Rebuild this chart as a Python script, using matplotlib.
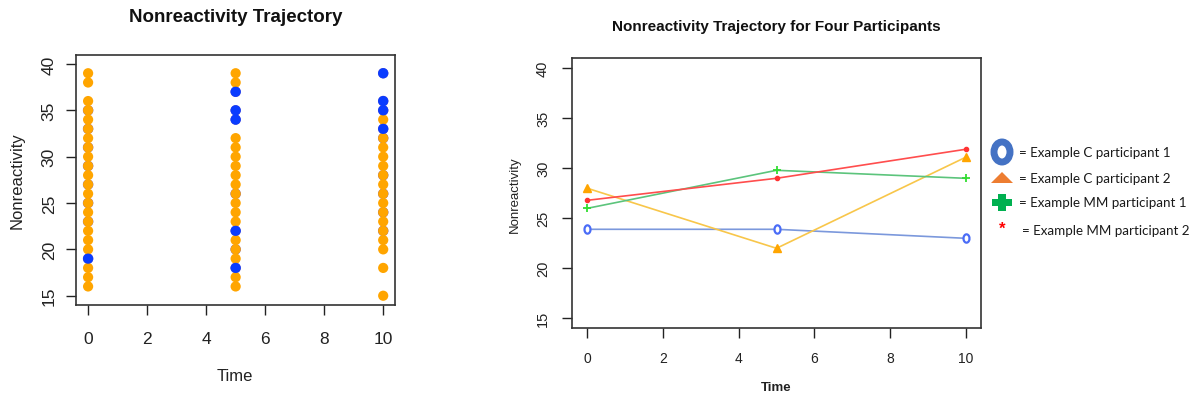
import matplotlib
matplotlib.use("Agg")
import matplotlib.pyplot as plt
from matplotlib.patches import Ellipse, Polygon
from matplotlib.path import Path
import numpy as np

plt.rcParams['font.family'] = ['Liberation Sans', 'DejaVu Sans']

# ---- Left panel data (Time, Nonreactivity) ----
orange_t0 = [39, 38, 36, 35, 34, 33, 32, 31, 30, 29, 28, 27, 26, 25, 24, 23, 22, 21, 20, 18, 17, 16]
blue_t0 = [19, 35, 33, 31, 29, 27, 25, 23]
orange_t5 = [39, 38, 32, 31, 30, 29, 28, 27, 26, 25, 24, 23, 21, 20, 19, 17, 16]
blue_t5 = [37, 35, 34, 22, 18, 26, 20]
orange_t10 = [34, 32, 31, 30, 29, 28, 27, 26, 25, 24, 23, 22, 21, 20, 18, 15]
blue_t10 = [39, 36, 35, 33, 32, 28, 26, 24, 22]

# ---- Right panel data ----
times = [0, 5, 10]
c_p1 = [23.9, 23.9, 23.0]
c_p2 = [28.0, 22.0, 31.1]
mm_p1 = [26.0, 29.8, 29.0]
mm_p2 = [26.8, 29.0, 31.9]
legend_labels = ["= Example C participant 1", "= Example C participant 2",
                 "= Example MM participant 1", "= Example MM participant 2"]

W, H = 1203, 402
fig = plt.figure(figsize=(W / 100, H / 100), dpi=100)

def ax_rect(x0, y0, x1, y1):
    return [x0 / W, 1 - y1 / H, (x1 - x0) / W, (y1 - y0) / H]

# ---------------- Left ----------------
ax1 = fig.add_axes(ax_rect(76.3, 55.7, 395, 306))
blue = "#0a3cff"
orange = "#ffa500"
ms = 54
for t, vals in [(0, blue_t0), (5, blue_t5), (10, blue_t10)]:
    ax1.scatter([t] * len(vals), vals, s=ms + 3, color='#7a62c0', edgecolors='none', zorder=2)
for t, vals in [(0, blue_t0[:1]), (5, blue_t5[:5]), (10, blue_t10[:4])]:
    ax1.scatter([t] * len(vals), vals, s=ms, color=blue, edgecolors='none', zorder=4)
for t, vals in [(0, orange_t0), (5, orange_t5), (10, orange_t10)]:
    ax1.scatter([t] * len(vals), vals, s=ms, color=orange, edgecolors='none', zorder=3)
ax1.set_xlim(-0.4, 10.4)
ax1.set_ylim(14, 41)
ax1.set_xticks([0, 2, 4, 6, 8, 10])
ax1.set_yticks([15, 20, 25, 30, 35, 40])
ax1.tick_params(axis='x', length=7, width=1, pad=12, labelsize=12.5, colors='#222222')
ax1.tick_params(axis='y', length=7, width=1, pad=7, labelsize=12.5, labelrotation=90, colors='#222222')
for lab in ax1.get_yticklabels():
    lab.set_va('center')
for sp in ax1.spines.values():
    sp.set_color('#333333'); sp.set_linewidth(1.2)
fig.text(235 / W, 1 - 377 / H, "Time", ha='center', va='center', fontsize=12, color='#222222')
fig.text(17 / W, 1 - 181 / H, "Nonreactivity", ha='center', va='center', rotation=90, fontsize=12, color='#222222')
fig.text(236 / W, 1 - 17 / H, "Nonreactivity Trajectory", ha='center', va='center',
         fontsize=13.5, fontweight='bold', color='#111111')

# ---------------- Right ----------------
th = np.linspace(0, 2 * np.pi, 41)
oval = Path(np.column_stack([0.72 * np.cos(th), np.sin(th)]))

ax2 = fig.add_axes(ax_rect(572.3, 59.3, 980.7, 329.3))
ax2.plot(times, c_p1, color='#7b98dc', lw=1.2, zorder=2)
ax2.plot(times, c_p1, linestyle='none', marker=oval, ms=6, mfc='white', mec='#4a6cf7', mew=1.6, zorder=3)
ax2.plot(times, c_p2, color='#f8c64a', lw=1.2, zorder=2)
ax2.plot(times, c_p2, linestyle='none', marker='^', ms=6, color='#ffa500', zorder=3)
ax2.plot(times, mm_p1, color='#5cc47c', lw=1.2, zorder=2)
ax2.plot(times, mm_p1, linestyle='none', marker='+', ms=6, mew=1.3, color='#33dd33', zorder=3)
ax2.plot(times, mm_p2, color='#ff4d4d', lw=1.2, zorder=2)
ax2.plot(times, mm_p2, linestyle='none', marker='o', ms=3, color='#ff3333', zorder=3)
ax2.set_xlim(-0.4, 10.4)
ax2.set_ylim(14, 41)
ax2.set_xticks([0, 2, 4, 6, 8, 10])
ax2.set_yticks([15, 20, 25, 30, 35, 40])
ax2.tick_params(axis='x', length=7, width=1, pad=9, labelsize=10, colors='#222222')
ax2.tick_params(axis='y', length=7, width=1, pad=9, labelsize=10.5, labelrotation=90, colors='#222222')
for lab in ax2.get_yticklabels():
    lab.set_va('center')
for sp in ax2.spines.values():
    sp.set_color('#333333'); sp.set_linewidth(1.2)
fig.text(776 / W, 1 - 388 / H, "Time", ha='center', va='center', fontsize=9.5, fontweight='bold', color='#222222')
fig.text(515 / W, 1 - 195 / H, "Nonreactivity", ha='center', va='center', rotation=90, fontsize=9.5, color='#222222')
fig.text(776 / W, 1 - 27 / H, "Nonreactivity Trajectory for Four Participants", ha='center', va='center',
         fontsize=11, fontweight='bold', color='#111111')

# ---------------- Legend glyphs ----------------
def fx(x): return x / W
def fy(y): return 1 - y / H

fig.add_artist(Ellipse((fx(1002), fy(153)), 16 / W, 20 / H, transform=fig.transFigure,
                       fill=False, edgecolor='#4472c4', linewidth=5))
fig.add_artist(Polygon([[fx(991), fy(184)], [fx(1013), fy(184)], [fx(1002), fy(173)]],
                       closed=True, transform=fig.transFigure, facecolor='#ed7d31', edgecolor='none'))
# green plus
cx, cy = 1002, 203.5
pw, plx, ply = 7, 20, 17
fig.add_artist(Polygon([[fx(cx - plx / 2), fy(cy - pw / 2)], [fx(cx + plx / 2), fy(cy - pw / 2)],
                        [fx(cx + plx / 2), fy(cy + pw / 2)], [fx(cx - plx / 2), fy(cy + pw / 2)]],
                       closed=True, transform=fig.transFigure, facecolor='#00b050', edgecolor='none'))
fig.add_artist(Polygon([[fx(cx - pw / 2), fy(cy - ply / 2)], [fx(cx + pw / 2), fy(cy - ply / 2)],
                        [fx(cx + pw / 2), fy(cy + ply / 2)], [fx(cx - pw / 2), fy(cy + ply / 2)]],
                       closed=True, transform=fig.transFigure, facecolor='#00b050', edgecolor='none'))
fig.text(fx(1002), fy(229), "*", ha='center', va='center', fontsize=12, fontweight='bold', color='#ff0000')

leg_x = [1019, 1019, 1019, 1022]
leg_y = [153, 179, 203, 231]
for lx, ly, txt in zip(leg_x, leg_y, legend_labels):
    fig.text(fx(lx), fy(ly), txt, ha='left', va='center', fontsize=9.6, family=['Lato', 'DejaVu Sans'],
             color='#1a1a1a')

fig.savefig("out.png", dpi=100)
